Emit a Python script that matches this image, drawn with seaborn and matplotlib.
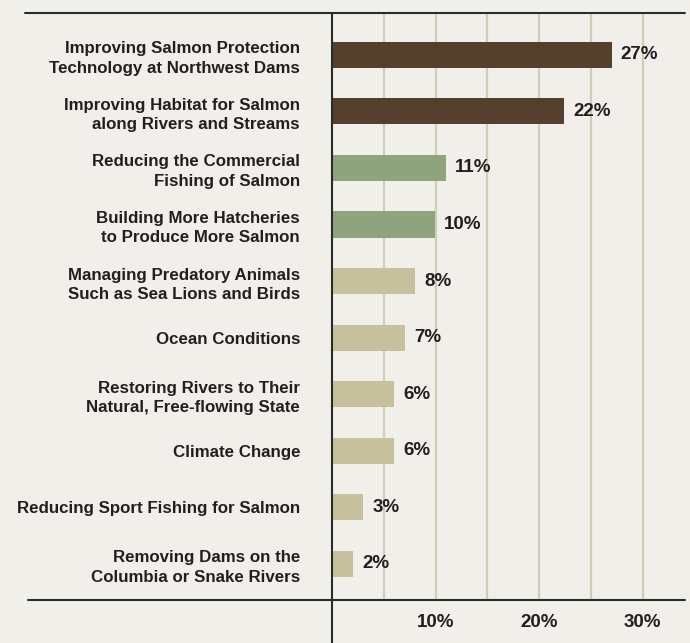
import pandas as pd
import matplotlib.pyplot as plt
import seaborn as sns
from matplotlib.lines import Line2D
from matplotlib.ticker import FixedLocator

categories = [
    "Improving Salmon Protection\nTechnology at Northwest Dams",
    "Improving Habitat for Salmon\nalong Rivers and Streams",
    "Reducing the Commercial\nFishing of Salmon",
    "Building More Hatcheries\nto Produce More Salmon",
    "Managing Predatory Animals\nSuch as Sea Lions and Birds",
    "Ocean Conditions",
    "Restoring Rivers to Their\nNatural, Free-flowing State",
    "Climate Change",
    "Reducing Sport Fishing for Salmon",
    "Removing Dams on the\nColumbia or Snake Rivers",
]
values = [27.0, 22.4, 11.0, 9.95, 8.0, 7.05, 6.0, 6.0, 3.0, 2.0]
value_labels = ["27%", "22%", "11%", "10%", "8%", "7%", "6%", "6%", "3%", "2%"]
groups = ["top", "top", "mid", "mid", "low", "low", "low", "low", "low", "low"]
tick_values = [10, 20, 30]
tick_labels = ["10%", "20%", "30%"]

group_colors = {"top": "#54402D", "mid": "#8FA47C", "low": "#C6C19C"}
bg = "#F0EFEA"
ink = "#231F20"

df = pd.DataFrame({"category": categories, "value": values, "group": groups})

sns.set_style("white")
plt.rcParams["font.family"] = ["Liberation Sans", "DejaVu Sans"]
plt.rcParams["font.weight"] = "bold"

fig = plt.figure(figsize=(6.9, 6.43), dpi=100, facecolor=bg)
ax = fig.add_axes([332 / 690, 1 - 600 / 643, (685 - 332) / 690, (600 - 13) / 643])
ax.set_facecolor(bg)

sns.barplot(data=df, y="category", x="value", hue="group", palette=group_colors,
            dodge=False, legend=False, width=0.46, orient="h", ax=ax,
            saturation=1, linewidth=0)

ax.set_xlim(0, 34.1)
ax.set_ylim(9.64, -0.74)

# grid every 5%
for g in range(5, 35, 5):
    ax.axvline(g, color="#CFCFB9", lw=1.6, zorder=0)

for i, (v, lab) in enumerate(zip(values, value_labels)):
    ax.text(v + 0.9, i, lab, va="center", ha="left", fontsize=13.5,
            fontweight="bold", color=ink)

ax.set_xlabel("")
ax.set_ylabel("")
ax.xaxis.set_major_locator(FixedLocator(tick_values))
ax.set_xticklabels(tick_labels, fontsize=13.5, fontweight="bold", color=ink)
ax.tick_params(axis="x", length=0, pad=10)
ax.tick_params(axis="y", length=0, pad=23)
for t in ax.get_yticklabels():
    t.set_fontsize(12.2)
    t.set_fontweight("bold")
    t.set_color(ink)
    t.set_horizontalalignment("right")
    t.set_multialignment("right")
    t.set_linespacing(1.35)

for s in ax.spines.values():
    s.set_visible(False)

# frame lines
fig.add_artist(Line2D([25 / 690, 685 / 690], [1 - 13 / 643] * 2, color="#2B2B2B", lw=1.5))
fig.add_artist(Line2D([28 / 690, 685 / 690], [1 - 600 / 643] * 2, color="#2B2B2B", lw=1.5))
fig.add_artist(Line2D([332 / 690] * 2, [0, 1 - 13 / 643], color="#2B2B2B", lw=1.5))

fig.savefig("out.png", dpi=100, facecolor=bg)
